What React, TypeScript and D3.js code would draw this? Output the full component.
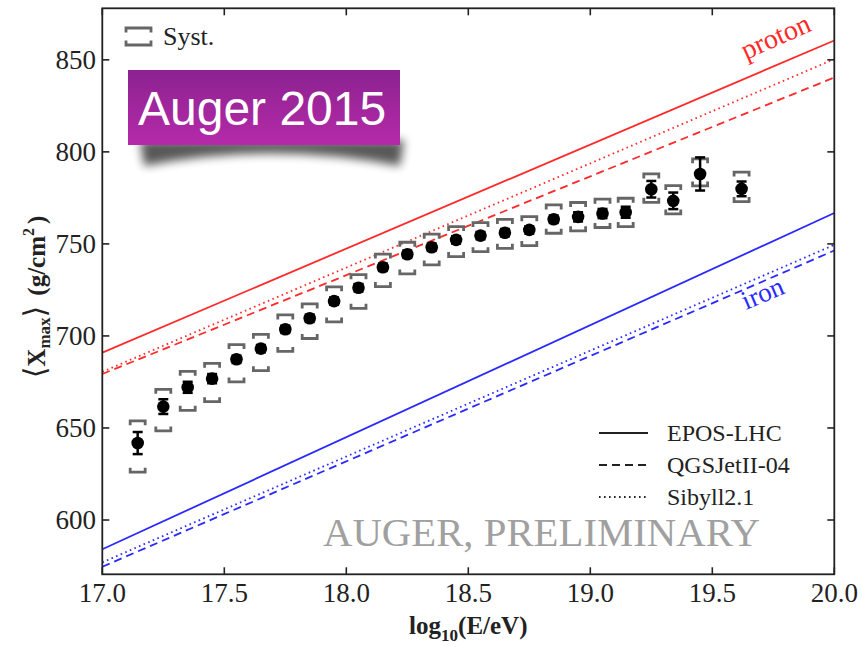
import React from 'react';
import * as d3 from 'd3';

// ---- data ----
const energies = [17.145, 17.25, 17.35, 17.45, 17.55, 17.65, 17.75, 17.85, 17.95, 18.05, 18.15, 18.25, 18.35, 18.45, 18.55, 18.65, 18.75, 18.85, 18.95, 19.05, 19.145, 19.25, 19.34, 19.45, 19.62];
const xmaxMean = [641.8, 661.6, 672.1, 676.8, 687.3, 693.1, 703.6, 709.6, 718.9, 726.2, 737.3, 744.4, 748.2, 752.2, 754.5, 756.1, 757.6, 763.4, 764.7, 766.5, 767.2, 779.7, 773.4, 788.0, 779.9];
const statErr = [6, 4, 3, 2.5, 2, 2, 2, 2, 2, 2, 2, 2, 2, 2, 2, 2, 2, 2, 2.5, 2.5, 3, 4.5, 4.5, 9, 4];
const systUp = [12.1, 9.4, 8.7, 8.3, 8.0, 7.8, 7.8, 7.8, 7.8, 7.1, 7.2, 6.5, 7.1, 7.2, 7.1, 7.2, 7.2, 7.8, 7.8, 7.8, 7.6, 8.3, 8.3, 8.2, 9.1];
const systDown = [15.8, 13.2, 12.5, 12.5, 12.3, 12.0, 12.0, 11.0, 11.3, 11.2, 10.5, 10.7, 9.6, 9.1, 8.7, 8.5, 8.5, 7.6, 7.6, 7.6, 7.8, 7.1, 7.1, 6.5, 6.9];

const modelNames = ['EPOS-LHC', 'QGSJetII-04', 'Sibyll2.1'];
const lineEnergies = [17, 20];
const protonStart = [690.9, 679.3, 680.5];
const protonEnd = [860.5, 840.4, 850.4];
const ironStart = [584.1, 574.6, 577.0];
const ironEnd = [766.8, 746.4, 749.5];

const xTicks = [17.0, 17.5, 18.0, 18.5, 19.0, 19.5, 20.0];
const yTicks = [600, 650, 700, 750, 800, 850];
const xDomain = [17, 20];
const yDomain = [570.5, 878];

// ---- styles ----
const W = 862, H = 647;
const plot = { left: 102.3, right: 834.3, top: 8.3, bottom: 574.3 };
const RED = '#ff2a2a';
const BLUE = '#2a2aff';
const dashes = [null, '8,5', '1.6,3.4'];
const SERIF = "Liberation Serif, Times New Roman, DejaVu Serif, serif";
const SANS = "Liberation Sans, Arial, DejaVu Sans, sans-serif";
const serif = (size: number, weight: string = 'normal') => ({ fontFamily: SERIF, fontSize: size + 'px', fontWeight: weight as any });

export default function App() {
  const x = d3.scaleLinear().domain(xDomain).range([plot.left, plot.right]);
  const y = d3.scaleLinear().domain(yDomain).range([plot.bottom, plot.top]);
  const line = d3.line<[number, number]>().x(d => x(d[0])).y(d => y(d[1]));

  const tickLen = 7;
  const bw = 7.5; // half width of syst bracket
  const bt = 4.5; // bracket tick height

  return (
    <svg width={W} height={H} style={{ position: 'absolute', left: 0, top: 0, background: '#fff' }}>
      <defs>
        <clipPath id="plotclip">
          <rect x={plot.left} y={plot.top} width={plot.right - plot.left} height={plot.bottom - plot.top} />
        </clipPath>
        <linearGradient id="badge" x1="0" y1="0" x2="0" y2="1">
          <stop offset="0" stopColor="#8c2290" />
          <stop offset="1" stopColor="#b52aa9" />
        </linearGradient>
        <filter id="blur" x="-20%" y="-80%" width="140%" height="260%">
          <feGaussianBlur stdDeviation="5" />
        </filter>
      </defs>

      {/* model lines */}
      <g clipPath="url(#plotclip)" fill="none" strokeWidth={1.8}>
        {modelNames.map((m, i) => (
          <path key={'p' + m} d={line(lineEnergies.map((e, k) => [e, k === 0 ? protonStart[i] : protonEnd[i]]) as [number, number][])!}
            stroke={RED} strokeDasharray={dashes[i] ?? undefined} />
        ))}
        {modelNames.map((m, i) => (
          <path key={'f' + m} d={line(lineEnergies.map((e, k) => [e, k === 0 ? ironStart[i] : ironEnd[i]]) as [number, number][])!}
            stroke={BLUE} strokeDasharray={dashes[i] ?? undefined} />
        ))}
      </g>

      {/* labels on lines */}
      <text x={746} y={60} fill={RED} style={serif(28)} transform="rotate(-24 746 60)">proton</text>
      <text x={746} y={310} fill={BLUE} style={serif(27)} transform="rotate(-23 746 310)">iron</text>

      {/* preliminary watermark */}
      <text x={323} y={546} fill="#a0a0a0" style={serif(40)} textLength={437} lengthAdjust="spacingAndGlyphs">AUGER, PRELIMINARY</text>

      {/* systematic brackets */}
      <g stroke="#666" strokeWidth={2.8} fill="none">
        {energies.map((e, i) => {
          const cx = x(e);
          const yu = y(xmaxMean[i] + systUp[i]);
          const yl = y(xmaxMean[i] - systDown[i]);
          return (
            <g key={'s' + i}>
              <path d={`M${cx - bw},${yu + bt} V${yu} H${cx + bw} V${yu + bt}`} />
              <path d={`M${cx - bw},${yl - bt} V${yl} H${cx + bw} V${yl - bt}`} />
            </g>
          );
        })}
      </g>

      {/* stat errors and points */}
      <g stroke="#000" strokeWidth={2.5}>
        {energies.map((e, i) => {
          const cx = x(e);
          const y1 = y(xmaxMean[i] + statErr[i]);
          const y2 = y(xmaxMean[i] - statErr[i]);
          return (
            <g key={'e' + i}>
              <line x1={cx} x2={cx} y1={y1} y2={y2} />
              <line x1={cx - 5} x2={cx + 5} y1={y1} y2={y1} />
              <line x1={cx - 5} x2={cx + 5} y1={y2} y2={y2} />
            </g>
          );
        })}
      </g>
      <g fill="#000">
        {energies.map((e, i) => (
          <circle key={'c' + i} cx={x(e)} cy={y(xmaxMean[i])} r={6.3} />
        ))}
      </g>

      {/* frame */}
      <rect x={plot.left} y={plot.top} width={plot.right - plot.left} height={plot.bottom - plot.top}
        fill="none" stroke="#222" strokeWidth={1.8} />

      {/* ticks */}
      <g stroke="#222" strokeWidth={1.6}>
        {xTicks.map(t => (
          <g key={'xt' + t}>
            <line x1={x(t)} x2={x(t)} y1={plot.bottom} y2={plot.bottom - tickLen} />
            <line x1={x(t)} x2={x(t)} y1={plot.top} y2={plot.top + tickLen} />
          </g>
        ))}
        {yTicks.map(t => (
          <g key={'yt' + t}>
            <line x1={plot.left} x2={plot.left + tickLen} y1={y(t)} y2={y(t)} />
            <line x1={plot.right} x2={plot.right - tickLen} y1={y(t)} y2={y(t)} />
          </g>
        ))}
      </g>
      {xTicks.map(t => (
        <text key={'xl' + t} x={x(t)} y={602} textAnchor="middle" fill="#222" style={serif(27)}>{d3.format('.1f')(t)}</text>
      ))}
      {yTicks.map(t => (
        <text key={'yl' + t} x={96} y={y(t) + 9} textAnchor="end" fill="#222" style={serif(27)}>{t}</text>
      ))}

      {/* axis titles */}
      <text x={(plot.left + plot.right) / 2} y={634} textAnchor="middle" fill="#222" style={serif(25, 'bold')}>
        log<tspan style={{ fontSize: '17px' }} dy={7}>10</tspan><tspan dy={-7}>(E/eV)</tspan>
      </text>
      <text transform="translate(45,297) rotate(-90)" textAnchor="middle" fill="#222" style={serif(25)}>
        <tspan style={{ fontSize: '30px', fontWeight: 'normal' }}>⟨</tspan>
        <tspan style={{ fontWeight: 'bold' }}>X</tspan>
        <tspan style={{ fontWeight: 'bold', fontSize: '17px' }} dy={5}>max</tspan>
        <tspan style={{ fontSize: '30px' }} dy={-5}>⟩</tspan>
        <tspan style={{ fontWeight: 'bold' }} dx={10}>(g/cm</tspan>
        <tspan style={{ fontWeight: 'bold', fontSize: '16px' }} dy={-11}>2</tspan>
        <tspan style={{ fontWeight: 'bold' }} dy={11} dx={4}>)</tspan>
      </text>

      {/* model legend */}
      {modelNames.map((m, i) => (
        <g key={'lg' + m}>
          <line x1={599} x2={648} y1={433 + i * 32} y2={433 + i * 32} stroke="#222" strokeWidth={1.8}
            strokeDasharray={dashes[i] ?? undefined} />
          <text x={667} y={441 + i * 32} fill="#222" style={serif(24)}>{m}</text>
        </g>
      ))}

      {/* syst legend */}
      <g stroke="#666" strokeWidth={2.8} fill="none">
        <path d={`M126,${28 + bt} V28 H151 V${28 + bt}`} />
        <path d={`M126,${45 - bt} V45 H151 V${45 - bt}`} />
      </g>
      <text x={163} y={45} fill="#222" style={serif(26)}>Syst.</text>

      {/* badge */}
      <path d="M140,140 L404,140 L400,166 Q272,141 144,166 Z" fill="#000" opacity={0.65} filter="url(#blur)" />
      <rect x={128} y={70} width={272} height={75} fill="url(#badge)" />
      <text x={138} y={125} fill="#fff" style={{ fontFamily: SANS, fontSize: '48px' }}>Auger 2015</text>
    </svg>
  );
}
